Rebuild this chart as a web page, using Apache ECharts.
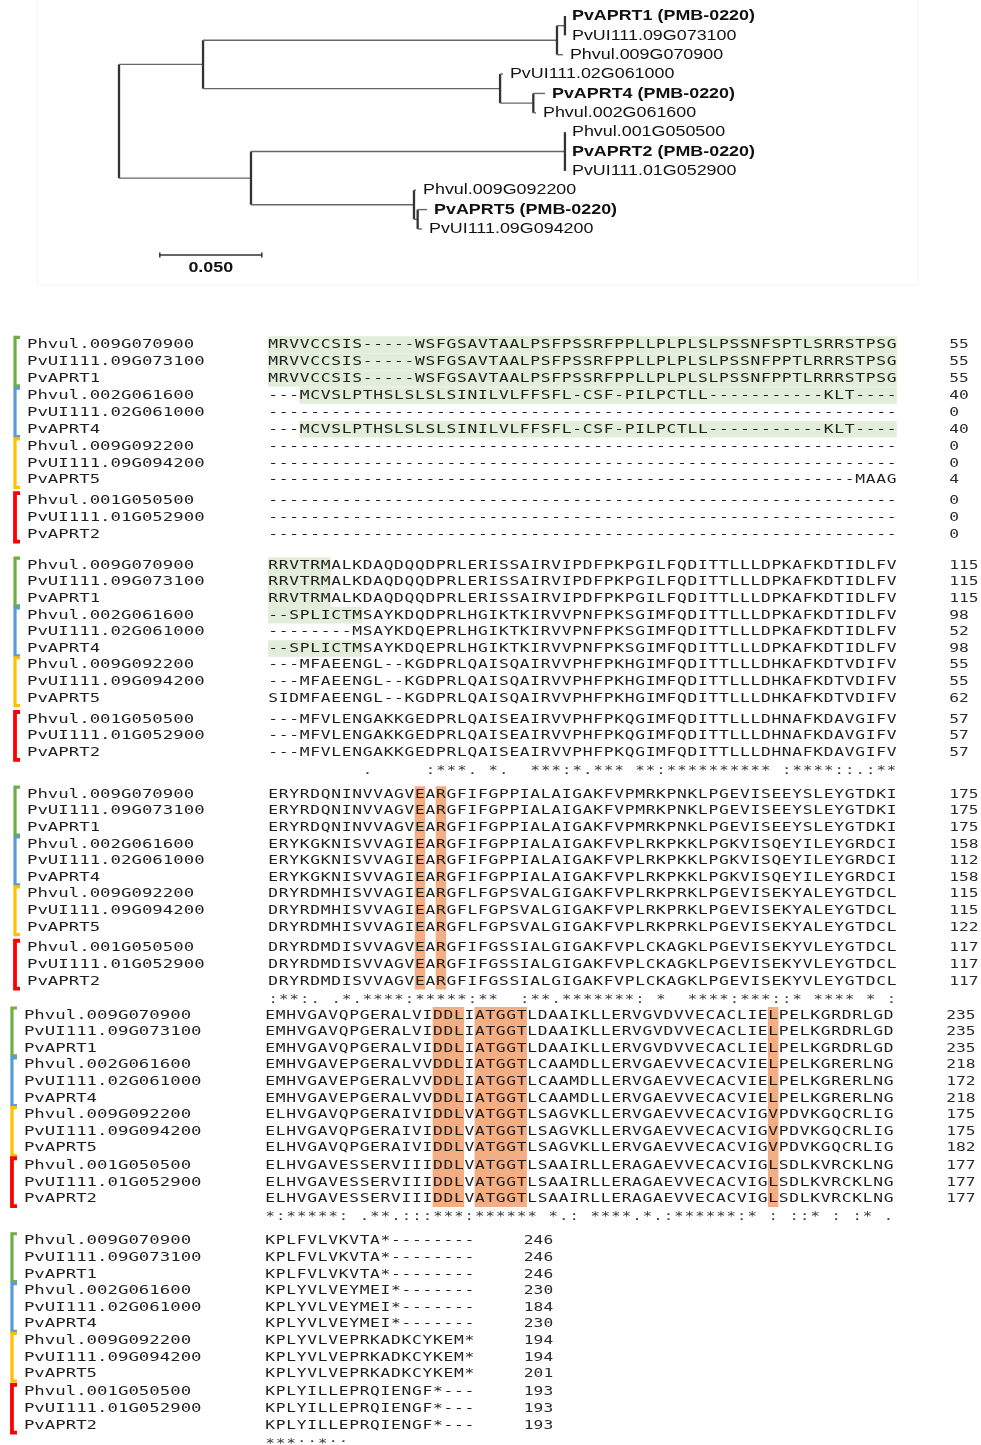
<!DOCTYPE html>
<html lang="en">
<head>
<meta charset="UTF-8">
<title>APRT tree and alignment</title>
<script src="https://cdn.jsdelivr.net/npm/echarts@6/dist/echarts.min.js"></script>
<style>
html, body { margin: 0; padding: 0; background: #fff; }
#main { width: 981px; height: 1445px; }
</style>
</head>
<body>
<div id="main"></div>
<script>
// ---------- tree (top panel) ----------
// leaves from top to bottom; bold = the PMB-0220 ones
var leafNames = ['PvAPRT1 (PMB-0220)', 'PvUI111.09G073100', 'Phvul.009G070900', 'PvUI111.02G061000',
    'PvAPRT4 (PMB-0220)', 'Phvul.002G061600', 'Phvul.001G050500', 'PvAPRT2 (PMB-0220)',
    'PvUI111.01G052900', 'Phvul.009G092200', 'PvAPRT5 (PMB-0220)', 'PvUI111.09G094200'];
var leafParent = [3, 3, 2, 4, 5, 5, 7, 7, 7, 8, 9, 9];
var leafLength = [0, 0, 0.0029, 0.0014, 0.0057, 0.0013, 0, 0, 0, 0.001, 0.0046, 0.0021];
// internal nodes: 0 root, 1 A, 2 APRT1, 3 APRT1 pair, 4 APRT4, 5 APRT4 pair, 6 B, 7 APRT2, 8 APRT5, 9 APRT5 pair
var nodeParent = [-1, 0, 1, 2, 1, 4, 0, 6, 6, 8];
var nodeLength = [0, 0.0412, 0.1735, 0.0039, 0.1456, 0.0163, 0.0647, 0.1539, 0.0799, 0.0018];
var scaleBar = 0.05;

// ---------- alignment (bottom panel) ----------
var seqNames = ['Phvul.009G070900', 'PvUI111.09G073100', 'PvAPRT1', 'Phvul.002G061600', 'PvUI111.02G061000',
    'PvAPRT4', 'Phvul.009G092200', 'PvUI111.09G094200', 'PvAPRT5', 'Phvul.001G050500',
    'PvUI111.01G052900', 'PvAPRT2'];
var groupRows = [[0, 2], [3, 5], [6, 8], [9, 11]];

var gap60 = '------------------------------------------------------------';
var seqBlock1 = [
    'MRVVCCSIS-----WSFGSAVTAALPSFPSSRFPPLLPLPLSLPSSNFSPTLSRRSTPSG',
    'MRVVCCSIS-----WSFGSAVTAALPSFPSSRFPPLLPLPLSLPSSNFPPTLRRRSTPSG',
    'MRVVCCSIS-----WSFGSAVTAALPSFPSSRFPPLLPLPLSLPSSNFPPTLRRRSTPSG',
    '---MCVSLPTHSLSLSLSINILVLFFSFL-CSF-PILPCTLL-----------KLT----',
    gap60,
    '---MCVSLPTHSLSLSLSINILVLFFSFL-CSF-PILPCTLL-----------KLT----',
    gap60,
    gap60,
    '--------------------------------------------------------MAAG',
    gap60,
    gap60,
    gap60
];
var seqBlock2 = [
    'RRVTRMALKDAQDQQDPRLERISSAIRVIPDFPKPGILFQDITTLLLDPKAFKDTIDLFV',
    'RRVTRMALKDAQDQQDPRLERISSAIRVIPDFPKPGILFQDITTLLLDPKAFKDTIDLFV',
    'RRVTRMALKDAQDQQDPRLERISSAIRVIPDFPKPGILFQDITTLLLDPKAFKDTIDLFV',
    '--SPLICTMSAYKDQDPRLHGIKTKIRVVPNFPKSGIMFQDITTLLLDPKAFKDTIDLFV',
    '--------MSAYKDQEPRLHGIKTKIRVVPNFPKSGIMFQDITTLLLDPKAFKDTIDLFV',
    '--SPLICTMSAYKDQEPRLHGIKTKIRVVPNFPKSGIMFQDITTLLLDPKAFKDTIDLFV',
    '---MFAEENGL--KGDPRLQAISQAIRVVPHFPKHGIMFQDITTLLLDHKAFKDTVDIFV',
    '---MFAEENGL--KGDPRLQAISQAIRVVPHFPKHGIMFQDITTLLLDHKAFKDTVDIFV',
    'SIDMFAEENGL--KGDPRLQAISQAIRVVPHFPKHGIMFQDITTLLLDHKAFKDTVDIFV',
    '---MFVLENGAKKGEDPRLQAISEAIRVVPHFPKQGIMFQDITTLLLDHNAFKDAVGIFV',
    '---MFVLENGAKKGEDPRLQAISEAIRVVPHFPKQGIMFQDITTLLLDHNAFKDAVGIFV',
    '---MFVLENGAKKGEDPRLQAISEAIRVVPHFPKQGIMFQDITTLLLDHNAFKDAVGIFV'
];
var seqBlock3 = [
    'ERYRDQNINVVAGVEARGFIFGPPIALAIGAKFVPMRKPNKLPGEVISEEYSLEYGTDKI',
    'ERYRDQNINVVAGVEARGFIFGPPIALAIGAKFVPMRKPNKLPGEVISEEYSLEYGTDKI',
    'ERYRDQNINVVAGVEARGFIFGPPIALAIGAKFVPMRKPNKLPGEVISEEYSLEYGTDKI',
    'ERYKGKNISVVAGIEARGFIFGPPIALAIGAKFVPLRKPKKLPGKVISQEYILEYGRDCI',
    'ERYKGKNISVVAGIEARGFIFGPPIALAIGAKFVPLRKPKKLPGKVISQEYILEYGRDCI',
    'ERYKGKNISVVAGIEARGFIFGPPIALAIGAKFVPLRKPKKLPGKVISQEYILEYGRDCI',
    'DRYRDMHISVVAGIEARGFLFGPSVALGIGAKFVPLRKPRKLPGEVISEKYALEYGTDCL',
    'DRYRDMHISVVAGIEARGFLFGPSVALGIGAKFVPLRKPRKLPGEVISEKYALEYGTDCL',
    'DRYRDMHISVVAGIEARGFLFGPSVALGIGAKFVPLRKPRKLPGEVISEKYALEYGTDCL',
    'DRYRDMDISVVAGVEARGFIFGSSIALGIGAKFVPLCKAGKLPGEVISEKYVLEYGTDCL',
    'DRYRDMDISVVAGVEARGFIFGSSIALGIGAKFVPLCKAGKLPGEVISEKYVLEYGTDCL',
    'DRYRDMDISVVAGVEARGFIFGSSIALGIGAKFVPLCKAGKLPGEVISEKYVLEYGTDCL'
];
var seqBlock4 = [
    'EMHVGAVQPGERALVIDDLIATGGTLDAAIKLLERVGVDVVECACLIELPELKGRDRLGD',
    'EMHVGAVQPGERALVIDDLIATGGTLDAAIKLLERVGVDVVECACLIELPELKGRDRLGD',
    'EMHVGAVQPGERALVIDDLIATGGTLDAAIKLLERVGVDVVECACLIELPELKGRDRLGD',
    'EMHVGAVEPGERALVVDDLIATGGTLCAAMDLLERVGAEVVECACVIELPELKGRERLNG',
    'EMHVGAVEPGERALVVDDLIATGGTLCAAMDLLERVGAEVVECACVIELPELKGRERLNG',
    'EMHVGAVEPGERALVVDDLIATGGTLCAAMDLLERVGAEVVECACVIELPELKGRERLNG',
    'ELHVGAVQPGERAIVIDDLVATGGTLSAGVKLLERVGAEVVECACVIGVPDVKGQCRLIG',
    'ELHVGAVQPGERAIVIDDLVATGGTLSAGVKLLERVGAEVVECACVIGVPDVKGQCRLIG',
    'ELHVGAVQPGERAIVIDDLVATGGTLSAGVKLLERVGAEVVECACVIGVPDVKGQCRLIG',
    'ELHVGAVESSERVIIIDDLVATGGTLSAAIRLLERAGAEVVECACVIGLSDLKVRCKLNG',
    'ELHVGAVESSERVIIIDDLVATGGTLSAAIRLLERAGAEVVECACVIGLSDLKVRCKLNG',
    'ELHVGAVESSERVIIIDDLVATGGTLSAAIRLLERAGAEVVECACVIGLSDLKVRCKLNG'
];
var seqBlock5 = [
    'KPLFVLVKVTA*--------',
    'KPLFVLVKVTA*--------',
    'KPLFVLVKVTA*--------',
    'KPLYVLVEYMEI*-------',
    'KPLYVLVEYMEI*-------',
    'KPLYVLVEYMEI*-------',
    'KPLYVLVEPRKADKCYKEM*',
    'KPLYVLVEPRKADKCYKEM*',
    'KPLYVLVEPRKADKCYKEM*',
    'KPLYILLEPRQIENGF*---',
    'KPLYILLEPRQIENGF*---',
    'KPLYILLEPRQIENGF*---'
];
var endBlock1 = [55, 55, 55, 40, 0, 40, 0, 0, 4, 0, 0, 0];
var endBlock2 = [115, 115, 115, 98, 52, 98, 55, 55, 62, 57, 57, 57];
var endBlock3 = [175, 175, 175, 158, 112, 158, 115, 115, 122, 117, 117, 117];
var endBlock4 = [235, 235, 235, 218, 172, 218, 175, 175, 182, 177, 177, 177];
var endBlock5 = [246, 246, 246, 230, 184, 230, 194, 194, 201, 193, 193, 193];
var consBlock1 = '';
var consBlock2 = '         .     :***. *.  ***:*.*** **:********** :****::.:**';
var consBlock3 = ':**:. .*.****:*****:**  :**.*******: *  ****:***::* **** * :';
var consBlock4 = '*:*****: .**.:::***:****** *.: ****.*.:******:* : ::* : :* .';
var consBlock5 = '***::*::';

// shaded residues: [block, row, first col, last col] and [block, first col, last col] for whole columns
var greenCells = [[0, 0, 0, 59], [0, 1, 0, 59], [0, 2, 0, 59], [0, 3, 3, 59], [0, 5, 3, 59],
    [1, 0, 0, 5], [1, 1, 0, 5], [1, 2, 0, 5], [1, 3, 0, 8], [1, 5, 0, 8]];
var orangeCols = [[2, 14, 14], [2, 16, 16], [3, 16, 18], [3, 20, 24], [3, 48, 48]];

var blockSeqs = [seqBlock1, seqBlock2, seqBlock3, seqBlock4, seqBlock5];
var blockEnds = [endBlock1, endBlock2, endBlock3, endBlock4, endBlock5];
var blockCons = [consBlock1, consBlock2, consBlock3, consBlock4, consBlock5];

// ---------- layout ----------
var blockTop = [0.1, 13.4, 27.2, 40.5, 54.1];
var rowPitch = [1.02, 1, 1, 1, 1];
var redGap = [0.2, 0.27, 0.25, 0.05, 0.1];
var colShift = [0, 0, 0, -0.29, -0.29];
var numberCol = [65, 65, 65, 65, 24.7];
var groupColor = ['#70ad47', '#5b9bd5', '#ffc000', '#ff0000'];
var mono = '"DejaVu Sans Mono", monospace';
var sans = '"Liberation Sans", Arial, sans-serif';

function rowY(b, r) { return blockTop[b] + r * rowPitch[b] + (r >= 9 ? redGap[b] : 0); }

// ---------- tree geometry from branch lengths ----------
var nodeX = [], nodeY = [], nodeTop = [], nodeBottom = [];
for (var i = 0; i < nodeParent.length; i++) {
    nodeX[i] = (nodeParent[i] < 0 ? 0 : nodeX[nodeParent[i]]) + nodeLength[i];
}
var leafX = leafParent.map(function (p, j) { return nodeX[p] + leafLength[j]; });
for (i = nodeParent.length - 1; i >= 0; i--) {
    var ys = [];
    leafParent.forEach(function (p, j) { if (p === i) ys.push(j); });
    nodeParent.forEach(function (p, j) { if (p === i) ys.push(nodeY[j]); });
    nodeTop[i] = Math.min.apply(null, ys);
    nodeBottom[i] = Math.max.apply(null, ys);
    nodeY[i] = (nodeTop[i] + nodeBottom[i]) / 2;
}
var branches = [];
for (i = 0; i < nodeParent.length; i++) {
    if (nodeParent[i] >= 0) branches.push([nodeX[nodeParent[i]], nodeY[i], nodeX[i], nodeY[i], 0]);
    branches.push([nodeX[i], nodeTop[i], nodeX[i], nodeBottom[i], 1]);
}
leafParent.forEach(function (p, j) {
    if (leafLength[j] > 0) branches.push([nodeX[p], j, leafX[j], j, 0]);
});

function lineItem(params, api) {
    var a = api.coord([api.value(0), api.value(1)]);
    var b = api.coord([api.value(2), api.value(3)]);
    var v = api.value(4);
    return {
        type: 'line',
        shape: { x1: a[0], y1: a[1], x2: b[0], y2: b[1] },
        style: { stroke: v ? '#333' : '#666', lineWidth: v ? 2.3 : 1.4 }
    };
}

function textSeries(data, texts, opt) {
    return {
        type: 'custom', xAxisIndex: 1, yAxisIndex: 1, z: 3, progressive: 0,
        data: data,
        renderItem: function (params, api) {
            var p = api.coord([api.value(0), api.value(1)]);
            return {
                type: 'text', x: p[0], y: p[1], scaleX: opt.scaleX,
                style: {
                    text: texts[params.dataIndex], fill: opt.color, fontFamily: mono,
                    fontSize: opt.size, align: opt.align, verticalAlign: 'middle'
                }
            };
        }
    };
}

var series = [];

// tree branches
series.push({ type: 'custom', xAxisIndex: 0, yAxisIndex: 0, data: branches, renderItem: lineItem });

// tree labels
series.push({
    type: 'custom', xAxisIndex: 0, yAxisIndex: 0,
    data: leafX.map(function (x, j) { return [x, j]; }),
    renderItem: function (params, api) {
        var p = api.coord([api.value(0), api.value(1)]);
        var name = leafNames[params.dataIndex];
        return {
            type: 'text', x: p[0] + 7, y: p[1], scaleX: 1.17,
            style: {
                text: name, fill: '#111', fontFamily: sans, fontSize: 15.3,
                fontWeight: name.indexOf('PMB') >= 0 ? 'bold' : 'normal',
                align: 'left', verticalAlign: 'middle'
            }
        };
    }
});

// scale bar
series.push({
    type: 'custom', xAxisIndex: 0, yAxisIndex: 0,
    data: [[0.02, 12.35, 0.02 + scaleBar]],
    renderItem: function (params, api) {
        var a = api.coord([api.value(0), api.value(1)]);
        var b = api.coord([api.value(2), api.value(1)]);
        return {
            type: 'group',
            children: [
                { type: 'line', shape: { x1: a[0], y1: a[1], x2: b[0], y2: b[1] }, style: { stroke: '#333', lineWidth: 1.5 } },
                { type: 'line', shape: { x1: a[0], y1: a[1] - 2.5, x2: a[0], y2: a[1] + 2.5 }, style: { stroke: '#333', lineWidth: 1.5 } },
                { type: 'line', shape: { x1: b[0], y1: b[1] - 2.5, x2: b[0], y2: b[1] + 2.5 }, style: { stroke: '#333', lineWidth: 1.5 } },
                {
                    type: 'text', x: (a[0] + b[0]) / 2, y: a[1] + 13, scaleX: 1.17,
                    style: {
                        text: scaleBar.toFixed(3), fill: '#111', fontFamily: sans, fontSize: 15.3,
                        fontWeight: 'bold', align: 'center', verticalAlign: 'middle'
                    }
                }
            ]
        };
    }
});

// shaded residues
var shade = [];
greenCells.forEach(function (g) {
    var y = rowY(g[0], g[1]);
    shade.push([g[2] + colShift[g[0]], y - 0.5, g[3] + 1 + colShift[g[0]], y + 0.5, 0]);
});
orangeCols.forEach(function (o) {
    shade.push([o[1] + colShift[o[0]], rowY(o[0], 0) - 0.5, o[2] + 1 + colShift[o[0]], rowY(o[0], 11) + 0.5, 1]);
});
series.push({
    type: 'custom', xAxisIndex: 1, yAxisIndex: 1, z: 1, data: shade,
    renderItem: function (params, api) {
        var a = api.coord([api.value(0), api.value(1)]);
        var b = api.coord([api.value(2), api.value(3)]);
        return {
            type: 'rect',
            shape: { x: a[0], y: a[1], width: b[0] - a[0], height: b[1] - a[1] },
            style: { fill: api.value(4) ? '#f4ae84' : '#e2eed9' }
        };
    }
});

// group brackets
var brackets = [];
blockSeqs.forEach(function (rows, b) {
    groupRows.forEach(function (g, k) {
        brackets.push([-24.14 + colShift[b], rowY(b, g[0]) - 0.5, rowY(b, g[1]) + 0.5, k]);
    });
});
series.push({
    type: 'custom', xAxisIndex: 1, yAxisIndex: 1, z: 2, data: brackets,
    renderItem: function (params, api) {
        var a = api.coord([api.value(0), api.value(1)]);
        var b = api.coord([api.value(0), api.value(2)]);
        var k = api.value(3);
        var w = k === 3 ? 3.8 : 3.2;
        return {
            type: 'polyline',
            shape: { points: [[a[0] + 5, a[1] + 1], [a[0], a[1] + 1], [b[0], b[1] - 1], [b[0] + 5, b[1] - 1]] },
            style: { stroke: groupColor[k], lineWidth: w, fill: null }
        };
    }
});

// names, residues, end positions, consensus
blockSeqs.forEach(function (rows, b) {
    var nameData = [], resData = [], resText = [], endData = [], endText = [], consData = [], consText = [];
    rows.forEach(function (s, r) {
        var y = rowY(b, r);
        nameData.push([-23 + colShift[b], y]);
        for (var c = 0; c < s.length; c++) {
            resData.push([c + 0.5 + colShift[b], y]);
            resText.push(s.charAt(c));
        }
        endData.push([numberCol[b] + colShift[b], y]);
        endText.push(String(blockEnds[b][r]));
    });
    var cons = blockCons[b];
    for (var c = 0; c < cons.length; c++) {
        if (cons.charAt(c) === ' ') continue;
        consData.push([c + 0.5 + colShift[b], rowY(b, 11) + 1.1]);
        consText.push(cons.charAt(c));
    }
    series.push(textSeries(nameData, seqNames, { scaleX: 1.335, color: '#1e1e1e', size: 13, align: 'left' }));
    series.push(textSeries(resData, resText, { scaleX: 1.25, color: '#1e1e1e', size: 13, align: 'center' }));
    series.push(textSeries(endData, endText, { scaleX: 1.25, color: '#2a2a2a', size: 13, align: 'left' }));
    series.push(textSeries(consData, consText, { scaleX: 1.2, color: '#3a3a3a', size: 13, align: 'center' }));
});

var chart = echarts.init(document.getElementById('main'));
chart.setOption({
    animation: false,
    backgroundColor: '#fff',
    grid: [
        { left: 119, width: 612, top: 6.32, height: 271.04 },
        { left: 16.48, width: 964.16, top: 326.4, height: 1112.2 }
    ],
    xAxis: [
        { type: 'value', gridIndex: 0, min: 0, max: 0.3, show: false },
        { type: 'value', gridIndex: 1, min: -24, max: 68, show: false }
    ],
    yAxis: [
        { type: 'value', gridIndex: 0, min: -0.5, max: 13.5, inverse: true, show: false },
        { type: 'value', gridIndex: 1, min: -1, max: 66, inverse: true, show: false }
    ],
    graphic: [{
        type: 'rect', z: -1,
        shape: { x: 37, y: -2, width: 881, height: 287 },
        style: { fill: 'none', stroke: '#f3f3f3', lineWidth: 1 }
    }],
    series: series
});
</script>
</body>
</html>
